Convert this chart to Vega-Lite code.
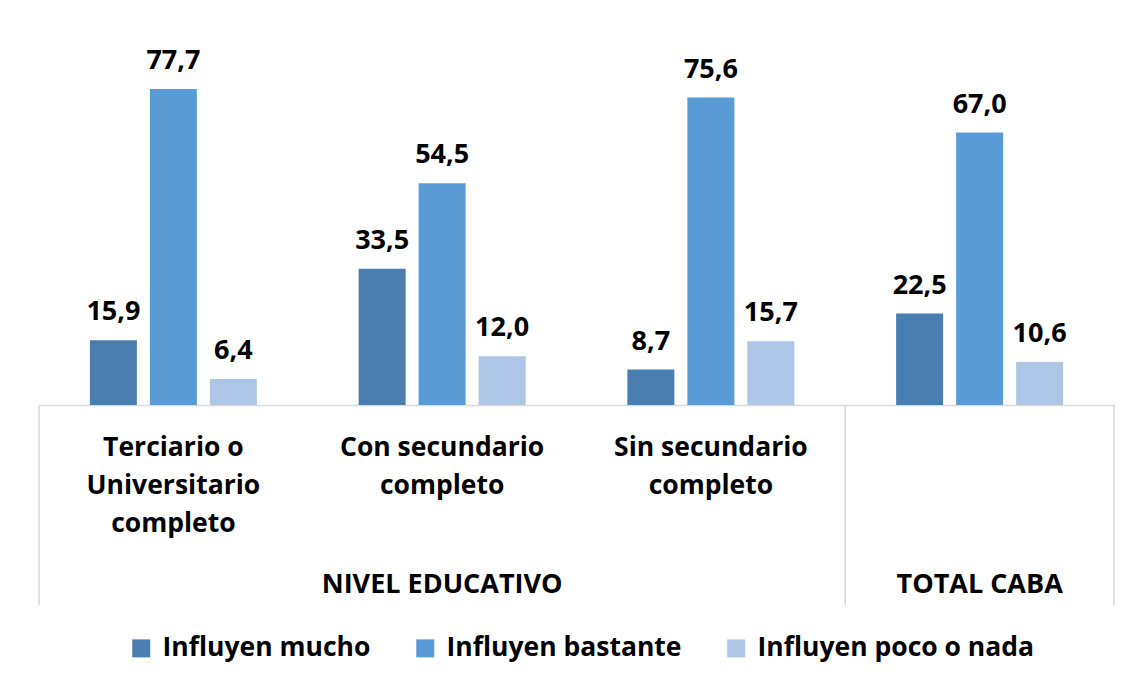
{
  "$schema": "https://vega.github.io/schema/vega-lite/v6.json",
  "width": 1075,
  "height": 366,
  "padding": {"left": 38, "top": 39, "right": 19, "bottom": 20},
  "background": "white",
  "datasets": {
    "bars": [
      {"cat": "Terciario o Universitario completo", "serie": "Influyen mucho", "value": 15.9},
      {"cat": "Terciario o Universitario completo", "serie": "Influyen bastante", "value": 77.7},
      {"cat": "Terciario o Universitario completo", "serie": "Influyen poco o nada", "value": 6.4},
      {"cat": "Con secundario completo", "serie": "Influyen mucho", "value": 33.5},
      {"cat": "Con secundario completo", "serie": "Influyen bastante", "value": 54.5},
      {"cat": "Con secundario completo", "serie": "Influyen poco o nada", "value": 12.0},
      {"cat": "Sin secundario completo", "serie": "Influyen mucho", "value": 8.7},
      {"cat": "Sin secundario completo", "serie": "Influyen bastante", "value": 75.6},
      {"cat": "Sin secundario completo", "serie": "Influyen poco o nada", "value": 15.7},
      {"cat": "Total CABA", "serie": "Influyen mucho", "value": 22.5},
      {"cat": "Total CABA", "serie": "Influyen bastante", "value": 67.0},
      {"cat": "Total CABA", "serie": "Influyen poco o nada", "value": 10.6}
    ],
    "grupos": [
      {"cat": "Con secundario completo", "grupo": "NIVEL EDUCATIVO"},
      {"cat": "Total CABA", "grupo": "TOTAL CABA"}
    ],
    "sepInicio": [
      {"cat": "Terciario o Universitario completo"},
      {"cat": "Total CABA"}
    ],
    "sepFin": [
      {"cat": "Total CABA"}
    ]
  },
  "layer": [
    {
      "data": {"name": "bars"},
      "mark": {"type": "bar"},
      "encoding": {
        "x": {
          "field": "cat", "type": "nominal",
          "scale": {"domain": ["Terciario o Universitario completo", "Con secundario completo", "Sin secundario completo", "Total CABA"], "paddingInner": 0, "paddingOuter": 0},
          "axis": {
            "title": null,
            "labelAngle": 0,
            "ticks": false,
            "domainColor": "#D9D9D9",
            "domainWidth": 1.5,
            "labelFont": "Open Sans",
            "labelFontSize": 26.5,
            "labelFontWeight": "bold",
            "labelColor": "#000000",
            "labelPadding": 29,
            "labelLineHeight": 38,
            "labelBaseline": "top",
            "labelLimit": 400,
            "labelExpr": "datum.value == 'Terciario o Universitario completo' ? ['Terciario o', 'Universitario', 'completo'] : datum.value == 'Con secundario completo' ? ['Con secundario', 'completo'] : datum.value == 'Sin secundario completo' ? ['Sin secundario', 'completo'] : ''"
          }
        },
        "xOffset": {
          "field": "serie", "type": "nominal",
          "scale": {"domain": ["Influyen mucho", "Influyen bastante", "Influyen poco o nada"], "paddingInner": 0.2167, "paddingOuter": 0.848}
        },
        "y": {
          "field": "value", "type": "quantitative",
          "scale": {"domain": [0, 90], "nice": false, "zero": true},
          "axis": null
        },
        "color": {
          "field": "serie", "type": "nominal",
          "scale": {"domain": ["Influyen mucho", "Influyen bastante", "Influyen poco o nada"], "range": ["#4A7EB1", "#5B9BD5", "#ADC6E5"]},
          "legend": {
            "title": null,
            "orient": "none",
            "direction": "horizontal",
            "legendX": 89,
            "legendY": 596,
            "symbolType": "square",
            "symbolSize": 324,
            "symbolStrokeWidth": 0,
            "symbolOpacity": 1,
            "labelFont": "Open Sans",
            "labelFontSize": 26.5,
            "labelFontWeight": "bold",
            "labelColor": "#000000",
            "labelOffset": 8,
            "columnPadding": 41,
            "labelLimit": 400
          }
        }
      }
    },
    {
      "data": {"name": "bars"},
      "mark": {"type": "text", "font": "Open Sans", "fontSize": 27, "fontWeight": "bold", "color": "#000000", "baseline": "alphabetic", "dy": -20},
      "encoding": {
        "x": {"field": "cat", "type": "nominal"},
        "xOffset": {"field": "serie", "type": "nominal"},
        "y": {"field": "value", "type": "quantitative"},
        "text": {"field": "value", "type": "quantitative", "format": ".1f"}
      }
    },
    {
      "data": {"name": "grupos"},
      "mark": {"type": "text", "font": "Open Sans", "fontSize": 27, "fontWeight": "bold", "color": "#000000", "baseline": "middle"},
      "encoding": {
        "x": {"field": "cat", "type": "nominal"},
        "y": {"datum": -44.3},
        "text": {"field": "grupo", "type": "nominal"}
      }
    },
    {
      "data": {"name": "sepInicio"},
      "mark": {"type": "rule", "color": "#D9D9D9", "strokeWidth": 1.5},
      "encoding": {
        "x": {"field": "cat", "type": "nominal", "bandPosition": 0},
        "y": {"datum": 0},
        "y2": {"datum": -49.2}
      }
    },
    {
      "data": {"name": "sepFin"},
      "mark": {"type": "rule", "color": "#D9D9D9", "strokeWidth": 1.5},
      "encoding": {
        "x": {"field": "cat", "type": "nominal", "bandPosition": 1},
        "y": {"datum": 0},
        "y2": {"datum": -49.2}
      }
    }
  ],
  "config": {
    "view": {"stroke": null},
    "locale": {
      "number": {"decimal": ",", "thousands": ".", "grouping": [3], "currency": ["$", ""]}
    }
  }
}
